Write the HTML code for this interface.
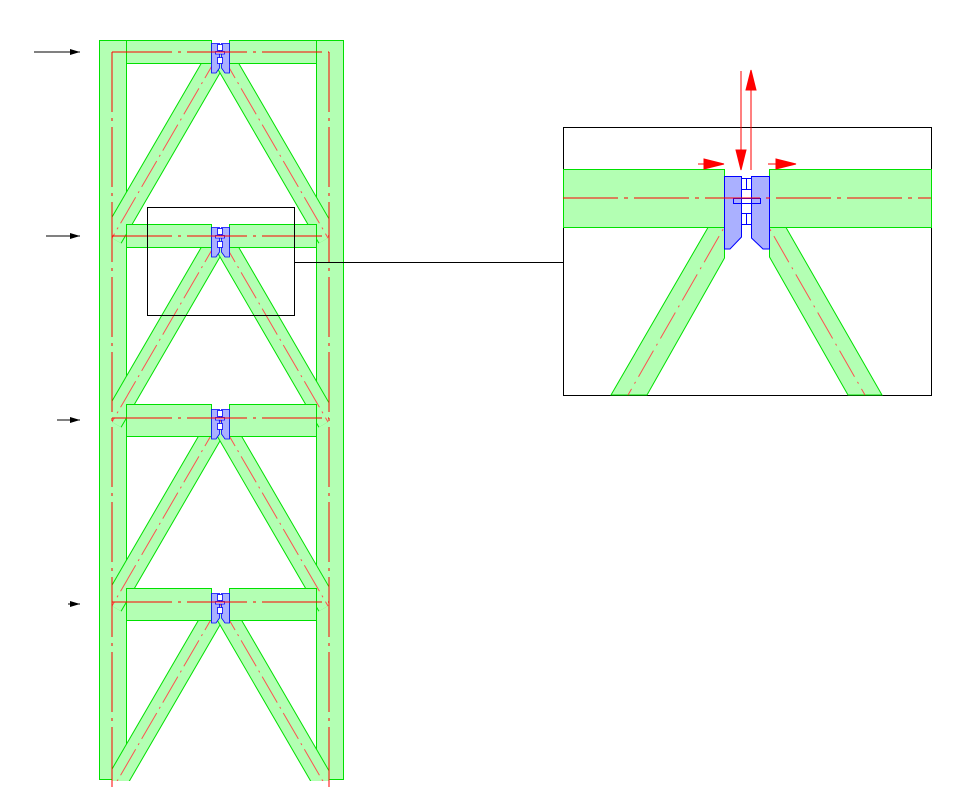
<!DOCTYPE html>
<html><head><style>html,body{margin:0;padding:0;background:#fff}svg{display:block}</style></head>
<body>
<svg width="965" height="812" viewBox="0 0 965 812" xmlns="http://www.w3.org/2000/svg">
<defs>
<marker id="ab" markerWidth="10" markerHeight="6" refX="10" refY="3" orient="auto" markerUnits="userSpaceOnUse"><path d="M0,0L10,3L0,6z" fill="#000"/></marker>
<clipPath id="cl"><rect x="112" y="0" width="217" height="781"/></clipPath>
<g id="jt">
<g fill="#aab0ff" stroke="#0000ff" stroke-width="0.8">
<path d="M211.5,43.5H219.5V68L216,73H211.5Z"/>
<path d="M221.5,43.5H229.5V73H225L221.5,68Z"/>
<rect x="217.5" y="44.5" width="5" height="6" fill="#fff"/>
<rect x="215.5" y="51.5" width="9" height="2.5" fill="#fff"/>
<rect x="217.5" y="57.5" width="5" height="6" fill="#fff"/>
</g>
<line x1="112" y1="52" x2="329" y2="52" stroke="#f00" stroke-width="1" stroke-dasharray="60,6,3,6"/>
</g>
</defs>
<!-- load arrows -->
<g stroke="#000" stroke-width="1">
<line x1="34" y1="52" x2="80" y2="52" marker-end="url(#ab)"/>
<line x1="46" y1="236" x2="80" y2="236" marker-end="url(#ab)"/>
<line x1="57" y1="420" x2="80" y2="420" marker-end="url(#ab)"/>
<line x1="68" y1="604" x2="80" y2="604" marker-end="url(#ab)"/>
</g>
<!-- columns -->
<g fill="#b3ffb3" stroke="#00e000" stroke-width="1">
<rect x="99.5" y="40.5" width="27" height="739"/>
<rect x="316.5" y="40.5" width="27" height="739"/>
</g>
<!-- diagonals -->
<g clip-path="url(#cl)">
<g id="dg">
<line x1="220" y1="52" x2="112" y2="238" stroke="#00e000" stroke-width="22"/>
<line x1="220" y1="52" x2="112" y2="238" stroke="#b3ffb3" stroke-width="20"/>
<line x1="220" y1="52" x2="328" y2="238" stroke="#00e000" stroke-width="22"/>
<line x1="220" y1="52" x2="328" y2="238" stroke="#b3ffb3" stroke-width="20"/>
<line x1="220" y1="52" x2="112" y2="238" stroke="#ff5050" stroke-width="1" stroke-dasharray="30,5,2,5"/>
<line x1="220" y1="52" x2="328" y2="238" stroke="#ff5050" stroke-width="1" stroke-dasharray="30,5,2,5"/>
</g>
<use href="#dg" y="184"/><use href="#dg" y="368"/><use href="#dg" y="552"/>
</g>
<!-- beams -->
<g fill="#b3ffb3" stroke="#00e000" stroke-width="1">
<rect x="126.5" y="40.5" width="85" height="23"/>
<rect x="229.5" y="40.5" width="87" height="23"/>
<rect x="126.5" y="224.5" width="85" height="23"/>
<rect x="229.5" y="224.5" width="87" height="23"/>
<rect x="126.5" y="404.5" width="85" height="32"/>
<rect x="229.5" y="404.5" width="87" height="32"/>
<rect x="126.5" y="588.5" width="85" height="32"/>
<rect x="229.5" y="588.5" width="87" height="32"/>
</g>
<use href="#jt"/>
<use href="#jt" y="184"/>
<use href="#jt" y="366"/>
<use href="#jt" y="550"/>
<!-- column red lines -->
<g stroke="#f00" stroke-width="1" stroke-dasharray="60,6,3,6">
<line x1="112" y1="52" x2="112" y2="788"/>
<line x1="329" y1="52" x2="329" y2="788"/>
</g>
<!-- detail frame -->
<g fill="none" stroke="#000" stroke-width="1">
<rect x="147.5" y="207.5" width="147" height="108"/>
<line x1="294" y1="262.5" x2="563" y2="262.5"/>
<rect x="563.5" y="127.5" width="368" height="268"/>
</g>
<!-- detail contents -->
<g fill="#b3ffb3" stroke="#00e000" stroke-width="1">
<path d="M708,227.5H724.5V258L647,395H611Z"/>
<path d="M769.5,227.5H786L882,395H848L769.5,257Z"/>
<rect x="563.5" y="169.5" width="161" height="58"/>
<rect x="769.5" y="169.5" width="162" height="58"/>
</g>
<g stroke="#ff5050" stroke-width="1" stroke-dasharray="30,6,2,6">
<line x1="741" y1="198" x2="628" y2="395"/>
<line x1="752" y1="198" x2="865" y2="395"/>
</g>
<g fill="#aab0ff" stroke="#0000ff" stroke-width="1">
<path d="M724.5,176.5H741.5V237L730,249H724.5Z"/>
<path d="M751.5,176.5H769.5V249H763L751.5,238Z"/>
<rect x="741.5" y="178.5" width="10" height="11" fill="#fff"/>
<line x1="746.5" y1="178.5" x2="746.5" y2="189.5"/>
<rect x="733.5" y="198.5" width="27" height="5" fill="none"/>
<rect x="741.5" y="213.5" width="10" height="11" fill="#fff"/>
<line x1="746.5" y1="213.5" x2="746.5" y2="224.5"/>
</g>
<line x1="563" y1="198" x2="931" y2="198" stroke="#f00" stroke-width="1" stroke-dasharray="55,6,4,6"/>
<!-- red arrows -->
<g stroke="#f00" stroke-width="1" fill="#f00">
<line x1="741" y1="71" x2="741" y2="155"/>
<path d="M736,150L746,150L741,170Z"/>
<line x1="751" y1="85" x2="751" y2="170"/>
<path d="M746,90L756,90L751,70Z"/>
<line x1="698" y1="164" x2="710" y2="164"/>
<path d="M704,159L724,164L704,169Z"/>
<line x1="768" y1="164" x2="780" y2="164"/>
<path d="M776,159L796,164L776,169Z"/>
</g>
</svg>
</body></html>
